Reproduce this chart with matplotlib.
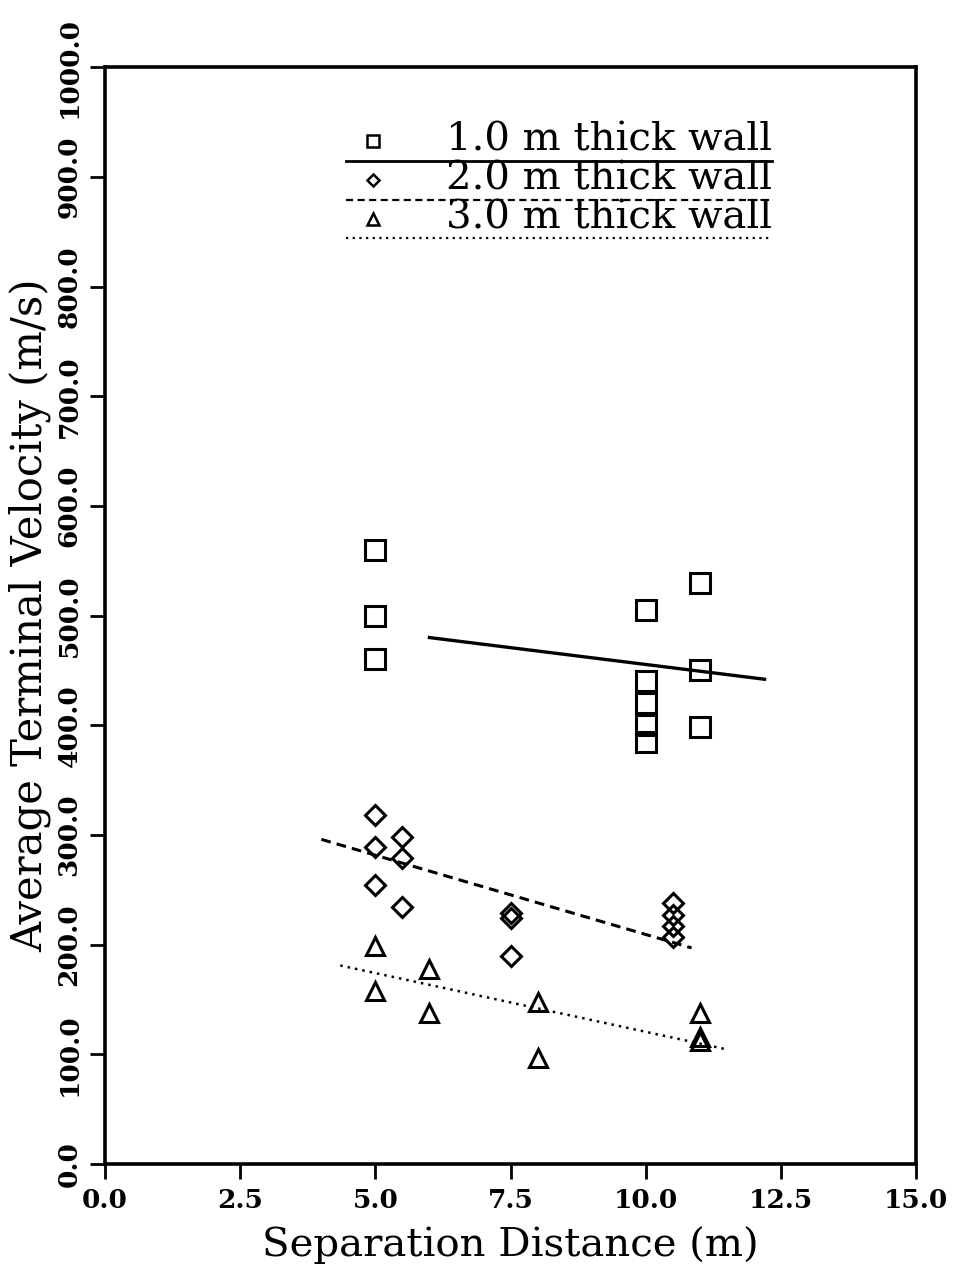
import numpy as np
import matplotlib
matplotlib.use("Agg")
import matplotlib.pyplot as plt

# ============================================================
# Data
# ============================================================

# 1.0 m thick wall (squares)
wall1_x = [5.0, 5.0, 5.0, 10.0, 10.0, 10.0, 10.0, 10.0, 11.0, 11.0, 11.0]
wall1_v = [560.0, 500.0, 460.0, 505.0, 440.0, 420.0, 400.0, 385.0, 530.0, 450.0, 398.0]
fit1_x = [6.0, 12.2]
fit1_v = [480.0, 442.0]

# 2.0 m thick wall (diamonds)
wall2_x = [5.0, 5.0, 5.0, 5.5, 5.5, 5.5, 7.5, 7.5, 7.5, 10.5, 10.5, 10.5, 10.5]
wall2_v = [318.0, 289.0, 254.0, 298.0, 279.0, 234.0, 229.0, 224.0, 190.0, 238.0, 227.0, 217.0, 207.0]
fit2_x = [4.0, 10.85]
fit2_v = [296.0, 197.0]

# 3.0 m thick wall (triangles)
wall3_x = [5.0, 5.0, 6.0, 6.0, 8.0, 8.0, 11.0, 11.0, 11.0]
wall3_v = [199.0, 158.0, 178.0, 138.0, 148.0, 97.0, 138.0, 116.0, 112.0]
fit3_x = [4.35, 11.45]
fit3_v = [181.0, 105.0]

legend_labels = ["1.0 m thick wall", "2.0 m thick wall", "3.0 m thick wall"]

x_ticks = [0.0, 2.5, 5.0, 7.5, 10.0, 12.5, 15.0]
y_ticks = [0.0, 100.0, 200.0, 300.0, 400.0, 500.0, 600.0, 700.0, 800.0, 900.0, 1000.0]

SERIF = "DejaVu Serif"

# ============================================================
# Figure
# ============================================================

fig = plt.figure(figsize=(9.56, 12.70), dpi=100)
ax = fig.add_axes([0.110, 0.0835, 0.848, 0.8635])

mk = dict(linestyle="none", markerfacecolor="none", markeredgecolor="black",
          markeredgewidth=2.2, markersize=14)
ax.plot(wall1_x, wall1_v, marker="s", **mk)
ax.plot(wall2_x, wall2_v, marker="D", **{**mk, "markersize": 10.5})
ax.plot(wall3_x, wall3_v, marker="^", **{**mk, "markersize": 13})

dash = (0, (3.2, 2.0))
dots = (0, (1, 2.0))
ax.plot(fit1_x, fit1_v, color="black", linestyle="-", linewidth=2.4)
ax.plot(fit2_x, fit2_v, color="black", linestyle=dash, linewidth=2.2)
ax.plot(fit3_x, fit3_v, color="black", linestyle=dots, linewidth=1.8)

ax.set_xlim(0, 15)
ax.set_ylim(0, 1000)
ax.set_xticks(x_ticks)
ax.set_yticks(y_ticks)
ax.set_xticklabels([f"{t:.1f}" for t in x_ticks], fontfamily=SERIF,
                   fontweight="bold", fontsize=19)
ax.set_yticklabels([f"{t:.1f}" for t in y_ticks], fontfamily=SERIF,
                   fontweight="bold", fontsize=19, rotation=90, va="center")

ax.tick_params(direction="out", length=11, width=2.0, pad=6)
for sp in ax.spines.values():
    sp.set_linewidth(2.6)

ax.set_xlabel("Separation Distance (m)", fontfamily=SERIF, fontsize=29, labelpad=10)
ax.set_ylabel("Average Terminal Velocity (m/s)", fontfamily=SERIF, fontsize=30,
              labelpad=4)

# Hand-built legend: marker, label, and the line style underneath
leg_markers = ["s", "D", "^"]
leg_styles = ["-", dash, dots]
row_y = [0.915, 0.879, 0.844]
for lab, m, ls, ry in zip(legend_labels, leg_markers, leg_styles, row_y):
    ax.plot([0.330], [ry + 0.018], marker=m, transform=ax.transAxes,
            markerfacecolor="none", markeredgecolor="black",
            markeredgewidth=1.8, markersize=8 if m != "D" else 6,
            linestyle="none", clip_on=False)
    ax.text(0.823, ry + 0.002, lab, transform=ax.transAxes, ha="right",
            va="bottom", fontfamily=SERIF, fontsize=29)
    ax.plot([0.297, 0.823], [ry, ry], transform=ax.transAxes,
            color="black", linestyle=ls, linewidth=2.0 if ls == "-" else 1.6)

fig.savefig("out.png", dpi=100, facecolor="white")
